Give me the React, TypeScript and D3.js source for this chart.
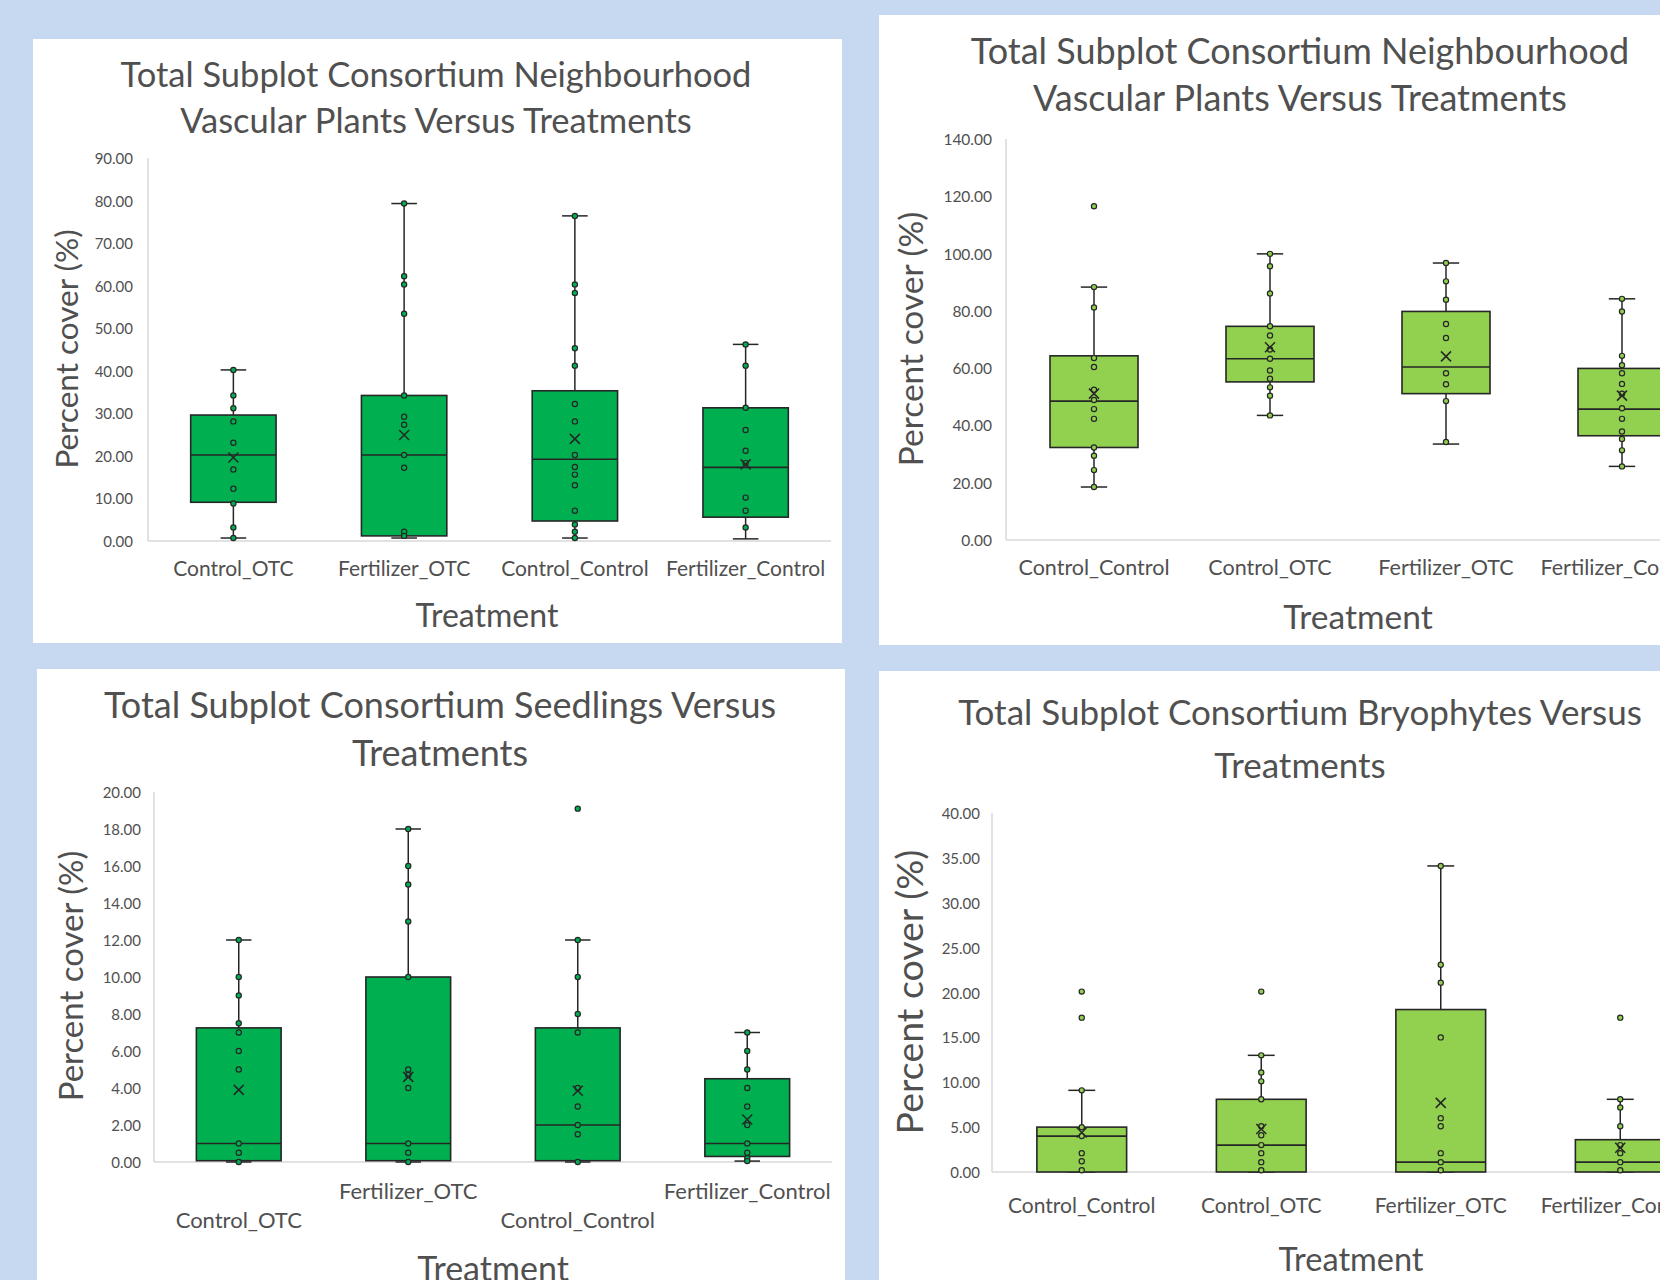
import React from "react";
import * as d3 from "d3";

// ---------- DATA ----------
// stats per category: [whiskerLow, q1, median, q3, whiskerHigh, mean]
const vascA_categories = ["Control_OTC", "Fertilizer_OTC", "Control_Control", "Fertilizer_Control"];
const vascA_stats = [
  [0.7, 9.1, 20.2, 29.6, 40.2, 19.6],
  [0.7, 1.2, 20.2, 34.2, 79.3, 24.9],
  [0.7, 4.7, 19.2, 35.3, 76.4, 24.0],
  [0.5, 5.6, 17.3, 31.3, 46.2, 18.0],
];
const vascA_points = [
  [40.2, 34.2, 31.2, 28.1, 23.1, 16.8, 12.3, 8.8, 3.2, 0.7],
  [79.3, 62.2, 60.3, 53.4, 34.2, 29.2, 27.3, 20.2, 17.2, 2.2, 1.2],
  [76.4, 60.3, 58.3, 45.3, 41.2, 32.2, 28.1, 20.2, 17.4, 15.6, 13.1, 7.1, 3.9, 2.2, 0.7],
  [46.2, 41.2, 31.3, 26.1, 21.2, 18.3, 10.2, 7.1, 3.2],
];
const vascA_ticks = [0, 10, 20, 30, 40, 50, 60, 70, 80, 90];

const vascB_categories = ["Control_Control", "Control_OTC", "Fertilizer_OTC", "Fertilizer_Control"];
const vascB_stats = [
  [18.5, 32.3, 48.5, 64.3, 88.3, 51.1],
  [43.5, 55.2, 63.3, 74.6, 99.9, 67.3],
  [33.5, 51.1, 60.4, 79.8, 96.7, 64.1],
  [25.7, 36.4, 45.7, 59.9, 84.2, 50.4],
];
const vascB_points = [
  [116.5, 88.3, 81.2, 63.5, 60.4, 52.5, 48.9, 45.7, 42.3, 32.3, 29.4, 24.4, 18.5],
  [99.9, 95.6, 86.1, 74.6, 71.4, 66.5, 63.3, 59.2, 56.3, 53.3, 50.4, 43.5],
  [96.7, 90.3, 83.9, 75.4, 70.5, 58.2, 54.4, 48.5, 34.2],
  [84.2, 79.8, 64.3, 61.0, 58.2, 54.5, 51.1, 46.0, 42.3, 37.9, 35.3, 31.3, 25.7],
];
const vascB_ticks = [0, 20, 40, 60, 80, 100, 120, 140];

const seed_categories = ["Control_OTC", "Fertilizer_OTC", "Control_Control", "Fertilizer_Control"];
const seed_stats = [
  [0, 0.07, 1.0, 7.25, 12.0, 3.9],
  [0, 0.07, 1.0, 10.0, 18.0, 4.6],
  [0, 0.07, 2.0, 7.25, 12.0, 3.85],
  [0.05, 0.3, 1.0, 4.5, 7.0, 2.3],
];
const seed_points = [
  [12, 10, 9, 7.5, 7.0, 6.0, 5.0, 1.0, 0.5, 0],
  [18, 16, 15, 13, 10, 5.0, 4.7, 4.0, 1.0, 0.5, 0],
  [19.1, 12, 10, 8, 7, 4, 3, 2, 1.5, 0],
  [7, 6, 5, 4, 3, 2, 1, 0.5, 0.2, 0.05],
];
const seed_ticks = [0, 2, 4, 6, 8, 10, 12, 14, 16, 18, 20];

const bryo_categories = ["Control_Control", "Control_OTC", "Fertilizer_OTC", "Fertilizer_Control"];
const bryo_stats = [
  [0, 0, 4.0, 5.0, 9.1, 4.4],
  [0, 0, 3.0, 8.1, 13.0, 4.8],
  [0, 0, 1.1, 18.1, 34.1, 7.7],
  [0, 0, 1.1, 3.6, 8.1, 2.7],
];
const bryo_points = [
  [20.1, 17.2, 9.1, 5.0, 4.0, 2.1, 1.2, 0.2],
  [20.1, 13.0, 11.1, 10.1, 8.1, 5.1, 4.1, 3.0, 2.1, 1.1, 0.2],
  [34.1, 23.1, 21.1, 15.0, 6.0, 5.1, 2.1, 1.1, 0.2],
  [17.2, 8.1, 7.2, 5.1, 3.0, 2.1, 1.1, 0.2],
];
const bryo_ticks = [0, 5, 10, 15, 20, 25, 30, 35, 40];

// ---------- RENDERING ----------
const FONT = "Lato, 'Open Sans', 'DejaVu Sans', sans-serif";
const TEXT = "#505050";
const DARK = "#262626";

type PanelCfg = {
  rect: [number, number, number, number];
  title: string[];
  titleX: number;
  titleY: number[];
  titleSize: number;
  yDomain: [number, number];
  yRange: [number, number];
  xRange: [number, number];
  ticks: number[];
  tickRight: number;
  tickSize: number;
  categories: string[];
  stats: number[][];
  points: number[][];
  fill: string;
  labelY: number[];
  labelSize: number;
  xTitle: [number, number, number];
  yTitle: [number, number, number];
};

function Panel({ c }: { c: PanelCfg }) {
  const y = d3.scaleLinear().domain(c.yDomain).range(c.yRange);
  const x = d3.scaleBand<string>().domain(c.categories).range(c.xRange).paddingInner(0).paddingOuter(0);
  const bw = x.bandwidth() * 0.5;
  const cap = bw * 0.3;
  const [rx, ry, rw, rh] = c.rect;
  return (
    <g>
      <rect x={rx} y={ry} width={rw} height={rh} fill="#ffffff" />
      {c.title.map((t, i) => (
        <text key={i} x={c.titleX} y={c.titleY[i]} textAnchor="middle" dominantBaseline="central"
          fontFamily={FONT} fontSize={c.titleSize} fill={TEXT}>{t}</text>
      ))}
      {/* axes */}
      <line x1={c.xRange[0]} x2={c.xRange[0]} y1={c.yRange[1]} y2={c.yRange[0]} stroke="#d9d9d9" strokeWidth={1.5} />
      <line x1={c.xRange[0]} x2={c.xRange[1]} y1={y(0)} y2={y(0)} stroke="#d9d9d9" strokeWidth={1.5} />
      {c.ticks.map((t) => (
        <text key={t} x={c.tickRight} y={y(t)} textAnchor="end" dominantBaseline="central"
          fontFamily={FONT} fontSize={c.tickSize} fill={TEXT}>{t.toFixed(2)}</text>
      ))}
      {c.categories.map((cat, i) => {
        const cx = (x(cat) as number) + x.bandwidth() / 2;
        const [lo, q1, med, q3, hi, mean] = c.stats[i];
        return (
          <g key={cat}>
            <line x1={cx} x2={cx} y1={y(hi)} y2={y(q3)} stroke={DARK} strokeWidth={1.5} />
            <line x1={cx} x2={cx} y1={y(q1)} y2={y(lo)} stroke={DARK} strokeWidth={1.5} />
            <line x1={cx - cap / 2} x2={cx + cap / 2} y1={y(hi)} y2={y(hi)} stroke={DARK} strokeWidth={1.5} />
            <line x1={cx - cap / 2} x2={cx + cap / 2} y1={y(lo)} y2={y(lo)} stroke={DARK} strokeWidth={1.5} />
            <rect x={cx - bw / 2} y={y(q3)} width={bw} height={y(q1) - y(q3)} fill={c.fill} stroke={DARK} strokeWidth={1.6} />
            <line x1={cx - bw / 2} x2={cx + bw / 2} y1={y(med)} y2={y(med)} stroke={DARK} strokeWidth={1.6} />
            {c.points[i].map((p, j) => (
              <circle key={j} cx={cx} cy={y(p)} r={2.6} fill={c.fill} stroke={DARK} strokeWidth={1.2} />
            ))}
            <path d={`M${cx - 5},${y(mean) - 5}L${cx + 5},${y(mean) + 5}M${cx - 5},${y(mean) + 5}L${cx + 5},${y(mean) - 5}`}
              stroke={DARK} strokeWidth={1.5} fill="none" />
            <text x={cx} y={c.labelY[i % c.labelY.length]} textAnchor="middle" dominantBaseline="central"
              fontFamily={FONT} fontSize={c.labelSize} fill={TEXT}>{cat}</text>
          </g>
        );
      })}
      <text x={c.xTitle[0]} y={c.xTitle[1]} textAnchor="middle" dominantBaseline="central"
        fontFamily={FONT} fontSize={c.xTitle[2]} fill={TEXT}>Treatment</text>
      <text transform={`translate(${c.yTitle[0]},${c.yTitle[1]}) rotate(-90)`} textAnchor="middle" dominantBaseline="central"
        fontFamily={FONT} fontSize={c.yTitle[2]} fill={TEXT}>Percent cover (%)</text>
    </g>
  );
}

const GREEN = "#00b050";
const LIGHT = "#92d050";

const panels: PanelCfg[] = [
  {
    rect: [33, 39, 809, 604],
    title: ["Total Subplot Consortium Neighbourhood", "Vascular Plants Versus Treatments"],
    titleX: 436, titleY: [73, 119], titleSize: 34.5,
    yDomain: [0, 90], yRange: [541, 158], xRange: [148, 831],
    ticks: vascA_ticks, tickRight: 133, tickSize: 15,
    categories: vascA_categories, stats: vascA_stats, points: vascA_points, fill: GREEN,
    labelY: [567], labelSize: 21,
    xTitle: [487, 614, 32], yTitle: [66, 349, 31.5],
  },
  {
    rect: [879, 15, 800, 630],
    title: ["Total Subplot Consortium Neighbourhood", "Vascular Plants Versus Treatments"],
    titleX: 1300, titleY: [50, 97], titleSize: 36,
    yDomain: [0, 140], yRange: [540, 139], xRange: [1006, 1710],
    ticks: vascB_ticks, tickRight: 992, tickSize: 15.5,
    categories: vascB_categories, stats: vascB_stats, points: vascB_points, fill: LIGHT,
    labelY: [567], labelSize: 21.5,
    xTitle: [1358, 616, 33.5], yTitle: [910, 339, 33.5],
  },
  {
    rect: [37, 669, 808, 620],
    title: ["Total Subplot Consortium Seedlings Versus", "Treatments"],
    titleX: 440, titleY: [704, 752], titleSize: 36,
    yDomain: [0, 20], yRange: [1162, 792], xRange: [154, 832],
    ticks: seed_ticks, tickRight: 141, tickSize: 15,
    categories: seed_categories, stats: seed_stats, points: seed_points, fill: GREEN,
    labelY: [1219, 1190], labelSize: 22,
    xTitle: [493, 1267, 34], yTitle: [70, 976, 33],
  },
  {
    rect: [879, 671, 800, 620],
    title: ["Total Subplot Consortium Bryophytes Versus", "Treatments"],
    titleX: 1300, titleY: [711, 764], titleSize: 35,
    yDomain: [0, 40], yRange: [1172, 813], xRange: [992, 1710],
    ticks: bryo_ticks, tickRight: 980, tickSize: 15,
    categories: bryo_categories, stats: bryo_stats, points: bryo_points, fill: LIGHT,
    labelY: [1204], labelSize: 21,
    xTitle: [1351, 1258, 32.5], yTitle: [908, 992, 37.5],
  },
];

export default function App() {
  return (
    <svg width={1660} height={1280} style={{ position: "absolute", left: 0, top: 0, display: "block" }}>
      <rect x={0} y={0} width={1660} height={1280} fill="#c6d9f0" />
      {panels.map((p, i) => (
        <Panel key={i} c={p} />
      ))}
    </svg>
  );
}
